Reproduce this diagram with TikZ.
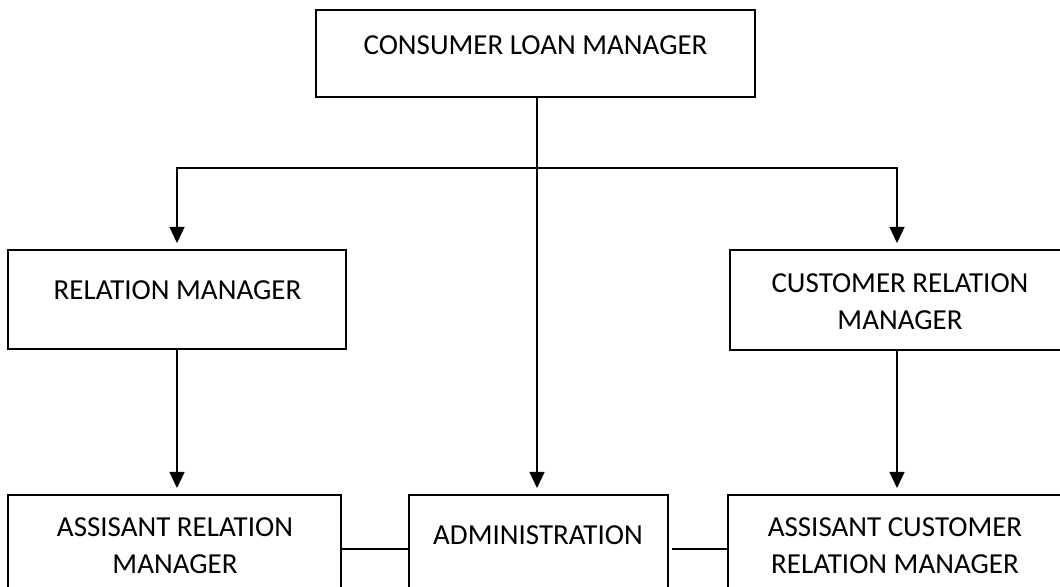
\documentclass[tikz,border=0pt]{standalone}
\usepackage{fontspec}
\setmainfont{Carlito}
\usetikzlibrary{arrows.meta}
\begin{document}
\begin{tikzpicture}[x=0.5pt,y=-0.5pt,
  orgbox/.style={draw, line width=1.2pt, inner sep=0pt, outer sep=0pt},
  lbl/.style={anchor=north, inner sep=0pt, align=center,
              font=\fontsize{14.5pt}{18.5pt}\selectfont},
  conn/.style={line width=0.6pt},
  arr/.style={conn, -{Triangle[length=8pt,width=7.5pt]}, shorten >=3.5pt}]
\useasboundingbox (0,0) rectangle (1060,587);
\clip (0,0) rectangle (1060,587);

% boxes
\node[orgbox, minimum width=219.5pt, minimum height=43.5pt] (clm)  at (535.5,53.5) {};
\node[orgbox, minimum width=169pt,   minimum height=49.5pt] (rm)   at (177,299.5) {};
\node[orgbox, minimum width=167pt,   minimum height=50pt]   (crm)  at (897,300) {};
\node[orgbox, minimum width=166.5pt, minimum height=54pt]   (arm)  at (174.5,549) {};
\node[orgbox, minimum width=129.5pt, minimum height=54pt]   (adm)  at (538.5,549) {};
\node[orgbox, minimum width=169pt,   minimum height=54pt]   (acrm) at (897,549) {};

% labels, set towards the top of each box
\node[lbl] (clmt)  at (535.5,35) {CONSUMER LOAN MANAGER};
\node[lbl] (rmt)   at (177.5,280) {RELATION MANAGER};
\node[lbl] (crmt)  at (900,273) {CUSTOMER RELATION\\MANAGER};
\node[lbl] (armt)  at (175,517) {ASSISANT RELATION\\MANAGER};
\node[lbl] (admt)  at (538,525) {ADMINISTRATION};
\node[lbl] (acrmt) at (895,517) {ASSISANT CUSTOMER\\RELATION MANAGER};

% connectors
\coordinate (bus) at (537,168);
\draw[arr] (clm.south -| bus) -- (adm.north -| bus);
\draw[arr] (bus) -| (rm.north);
\draw[arr] (bus) -| (crm.north);
\draw[arr] (rm.south) -- (arm.north -| rm.south);
\draw[arr] (crm.south) -- (acrm.north);
\draw[conn] (arm.east) -- (adm.west);
\draw[conn] ([xshift=2pt]adm.east) -- (acrm.west);
\end{tikzpicture}
\end{document}
